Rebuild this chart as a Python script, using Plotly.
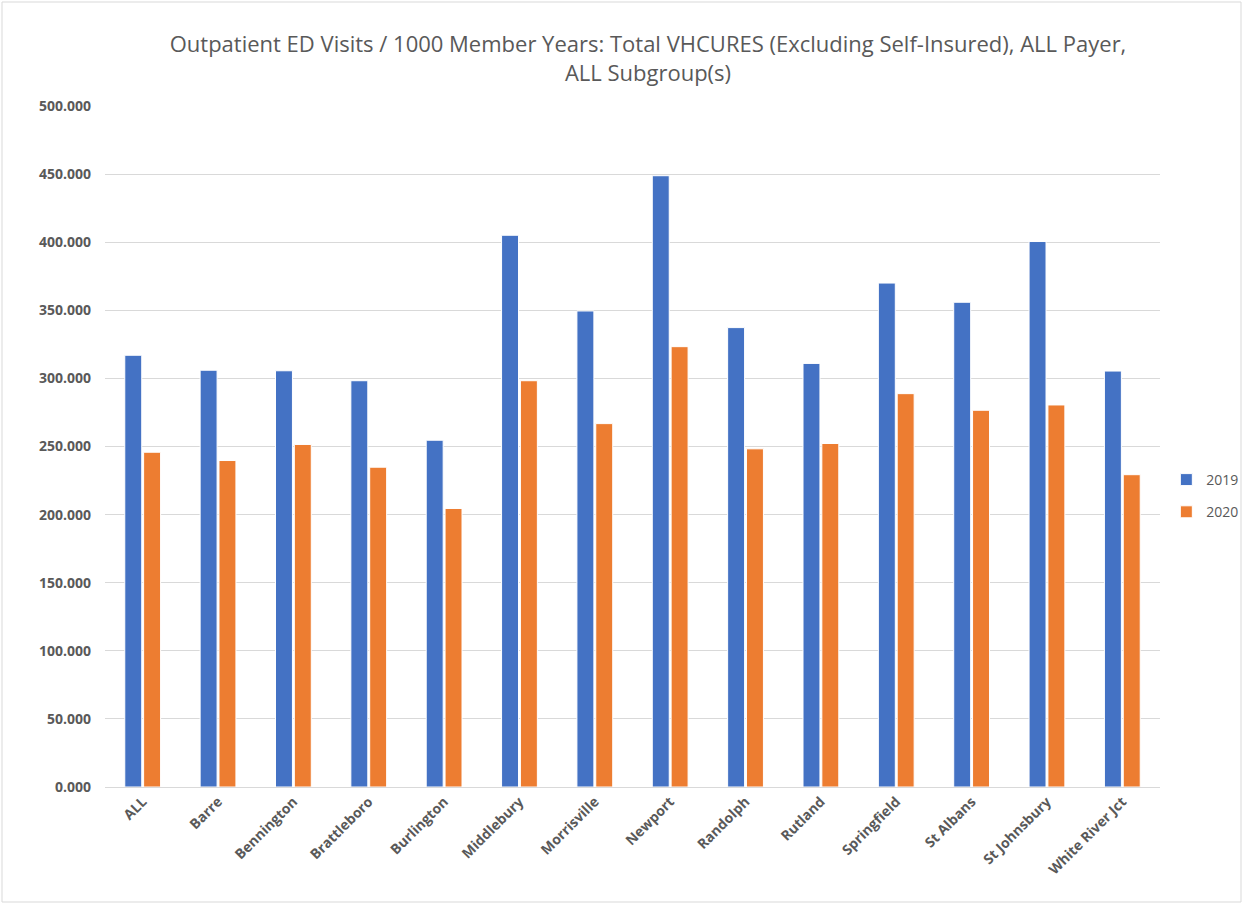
import plotly.graph_objects as go

categories = ["ALL", "Barre", "Bennington", "Brattleboro", "Burlington", "Middlebury",
              "Morrisville", "Newport", "Randolph", "Rutland", "Springfield",
              "St Albans", "St Johnsbury", "White River Jct"]
values_2019 = [317.0, 306.0, 305.6, 298.3, 254.6, 405.1, 349.5, 448.8, 337.3, 311.0,
               370.0, 355.9, 400.5, 305.4]
values_2020 = [245.8, 239.7, 251.5, 234.8, 204.5, 298.3, 266.8, 323.3, 248.3, 252.2,
               288.8, 276.6, 280.5, 229.3]
y_ticks = [0, 50, 100, 150, 200, 250, 300, 350, 400, 450, 500]

FONT = "Open Sans"
GRAY = "#595959"

fig = go.Figure()
fig.add_trace(go.Bar(name="2019", x=categories, y=values_2019, legendgroup="g2019",
                     marker=dict(color="#4472C4", line=dict(color="#ffffff", width=1))))
fig.add_trace(go.Bar(name="2020", x=categories, y=values_2020, legendgroup="g2020",
                     marker=dict(color="#ED7D31", line=dict(color="#ffffff", width=1))))

PW, PH = 1055, 681
fig.update_layout(
    width=1244, height=904,
    paper_bgcolor="white", plot_bgcolor="white",
    margin=dict(l=105, r=84, t=106, b=117, autoexpand=False),
    barmode="group", bargap=0.5, bargroupgap=0.1,
    title=dict(
        text="Outpatient ED Visits / 1000 Member Years: Total VHCURES (Excluding Self-Insured), ALL Payer,<br>ALL Subgroup(s)",
        x=(648 - 105) / PW, xref="paper", xanchor="center", y=1 - 52 / 904, yanchor="middle",
        font=dict(family=FONT, size=22, color=GRAY),
    ),
    font=dict(family=FONT, color=GRAY),
    legend=dict(
        x=1.006, xanchor="left", y=(787 - 496) / PH, yanchor="middle",
        font=dict(family=FONT, size=14, color=GRAY),
        tracegroupgap=11, itemwidth=30, bgcolor="rgba(0,0,0,0)",
    ),
    yaxis=dict(
        range=[0, 500], tickvals=y_ticks, tickformat=".3f",
        showgrid=True, gridcolor="#d9d9d9", gridwidth=1,
        zeroline=True, zerolinecolor="#d9d9d9", zerolinewidth=1,
        showline=False, ticks="", ticklabelstandoff=13,
        tickfont=dict(family=FONT, size=14, color=GRAY, weight="bold"),
    ),
    xaxis=dict(
        tickangle=-45, showline=True, linecolor="#d9d9d9", ticks="",
        tickfont=dict(family=FONT, size=14, color=GRAY, weight="bold"),
    ),
    shapes=[dict(type="rect", xref="paper", yref="paper",
                 x0=-103 / PW, x1=(1244 - 105 - 3) / PW,
                 y0=-(117 - 2) / PH, y1=(PH + 104) / PH,
                 line=dict(color="#d9d9d9", width=1), fillcolor="rgba(0,0,0,0)")],
)

fig.write_html("out.html", config={"displayModeBar": False},
               post_script="document.body.style.margin='0';")
